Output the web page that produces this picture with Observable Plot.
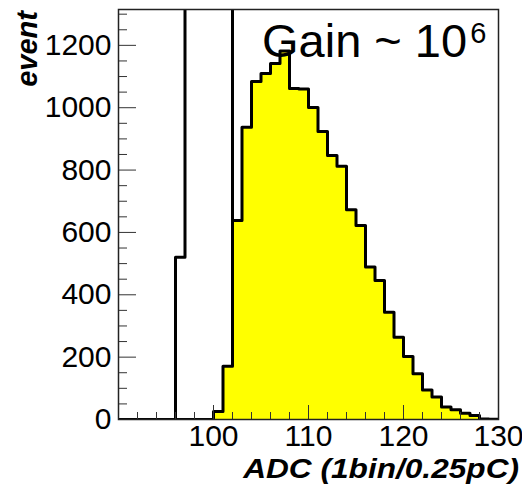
<!DOCTYPE html>
<html><head><meta charset="utf-8">
<script src="https://cdn.jsdelivr.net/npm/d3@7"></script>
<script src="https://cdn.jsdelivr.net/npm/@observablehq/plot@0.6"></script>
<style>
body{margin:0;background:#fff}
</style>
</head><body><div id="chart"></div>
<script>
// bin left edges (1 ADC per bin)
const binEdges = [90,91,92,93,94,95,96,97,98,99,100,101,102,103,104,105,106,107,108,109,
                  110,111,112,113,114,115,116,117,118,119,120,121,122,123,124,125,126,127,128,129];
// signal (yellow) histogram
const signalCounts = [0,0,0,0,0,0,0,0,0,0,
                      26,171,638,937,1084,1110,1142,1182,1062,1060,
                      1001,924,847,812,673,622,489,446,344,264,
                      202,147,95,72,40,31,20,13,2,1];
// pedestal histogram (off-scale bins estimated; clipped at frame top)
const pedestalCounts = [0,0,0,0,0,0,520,4000,9000,12000,
                        8000,3000,0,0,0,0,0,0,0,0,
                        0,0,0,0,0,0,0,0,0,0,
                        0,0,0,0,0,0,0,0,0,0];
const xMajorTicks = [100,110,120,130];
const xMinorTicks = [92,94,96,98,102,104,106,108,112,114,116,118,122,124,126,128];
const yMajorTicks = [0,200,400,600,800,1000,1200];
const yMinorTicks = [50,100,150,250,300,350,450,500,550,650,700,750,850,900,950,1050,1100,1150,1250,1300];
const xDomain = [90,130];
const yDomain = [0,1315];
const xTitle = "ADC (1bin/0.25pC)";
const yTitle = "event";
const annotation = "Gain ~ 10";
const annotationSup = "6";

function steps(counts){
  const pts = binEdges.map((b,i)=>({x:b, y:counts[i]}));
  pts.push({x: binEdges[binEdges.length-1]+1, y: counts[counts.length-1]});
  return pts;
}
const sig = steps(signalCounts);
const ped = steps(pedestalCounts);
const blank = () => "";

const chart = Plot.plot({
  width: 522, height: 485,
  marginLeft: 118, marginRight: 24, marginTop: 9, marginBottom: 66,
  style: {fontFamily: "'Liberation Sans', Arial, Helvetica, sans-serif", background: "#fff", overflow: "visible"},
  x: {domain: xDomain, axis: null},
  y: {domain: yDomain, axis: null},
  marks: [
    Plot.line(ped, {x:"x", y:"y", curve:"step-after", stroke:"#000", strokeWidth:3, clip:true}),
    Plot.areaY(sig, {x:"x", y:"y", curve:"step-after", fill:"#ffff00", clip:true}),
    Plot.line(sig, {x:"x", y:"y", curve:"step-after", stroke:"#000", strokeWidth:3, clip:true}),
    Plot.axisY({anchor:"left", ticks:yMajorTicks, tickSize:-18, stroke:"#333", tickFormat:blank, label:null}),
    Plot.axisY({anchor:"left", ticks:yMinorTicks, tickSize:-9, stroke:"#333", tickFormat:blank, label:null}),
    Plot.axisX({anchor:"bottom", ticks:xMajorTicks, tickSize:-14, stroke:"#333", tickFormat:blank, label:null}),
    Plot.axisX({anchor:"bottom", ticks:xMinorTicks, tickSize:-7, stroke:"#333", tickFormat:blank, label:null}),
    Plot.axisY({anchor:"left", ticks:yMajorTicks, tickSize:0, tickPadding:7, fontSize:30, fill:"#000", tickFormat:d=>String(d), label:null}),
    Plot.axisX({anchor:"bottom", ticks:xMajorTicks, tickSize:0, tickPadding:5, fontSize:30, fill:"#000", tickFormat:d=>String(d), label:null}),
    Plot.frame({stroke:"#222", strokeWidth:1.5})
  ]
});
document.getElementById("chart").appendChild(chart);
const svg = d3.select(chart);
const g = svg.append("text").attr("x",262).attr("y",57).attr("text-anchor","start").attr("font-size",47).attr("fill","#000");
g.append("tspan").text(annotation);
g.append("tspan").attr("font-size",29).attr("dx",3).attr("dy",-14).text(annotationSup);
svg.append("text").attr("transform","translate(519,478) scale(1.13,1)").attr("text-anchor","end")
  .attr("font-size",28).attr("font-weight","bold").attr("font-style","italic").attr("fill","#000").text(xTitle);
svg.append("text").attr("transform","translate(37,11) rotate(-90)").attr("text-anchor","end")
  .attr("font-size",29).attr("font-weight","bold").attr("font-style","italic").attr("fill","#000").text(yTitle);
</script>
</body></html>
